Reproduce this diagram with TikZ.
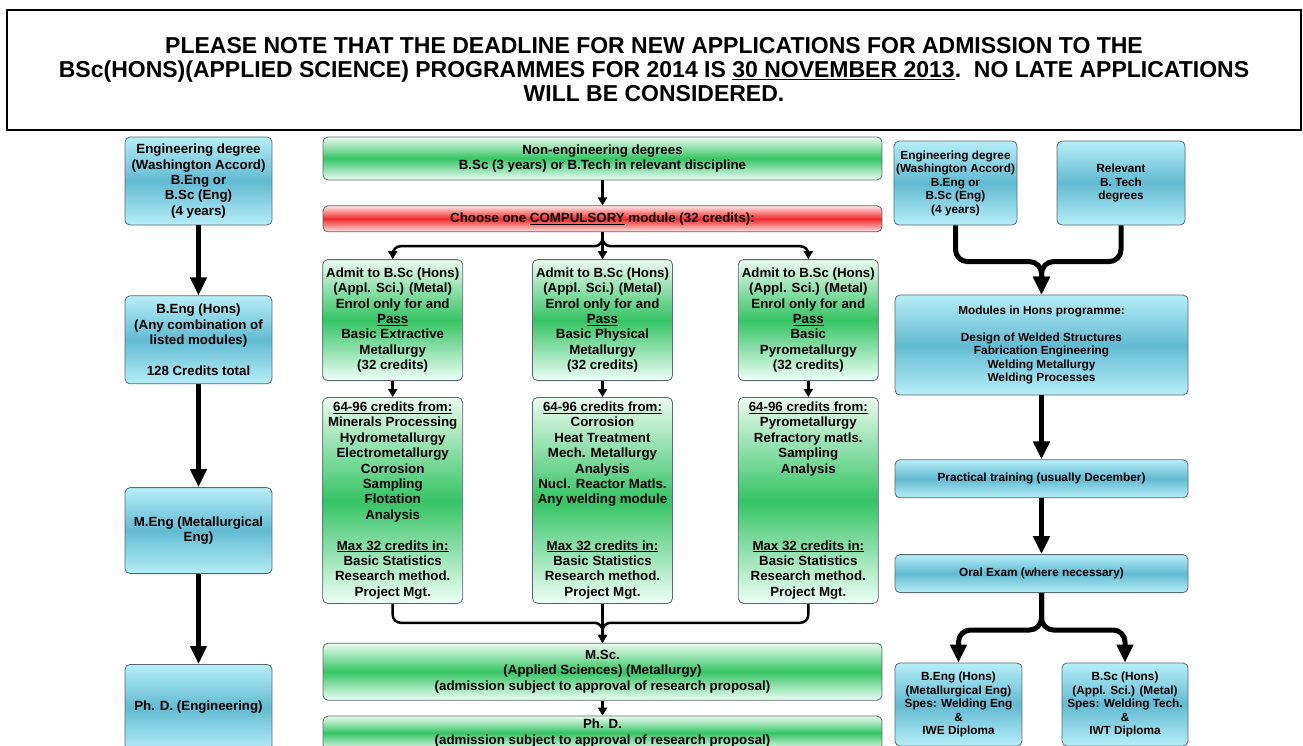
\documentclass[tikz,border=0pt]{standalone}
\usepackage{fontspec}
\setmainfont{Liberation Sans}
\usepackage{tikz}
\usetikzlibrary{arrows.meta,positioning}

\definecolor{bluetop}{HTML}{B6EEF8}
\definecolor{bluemid}{HTML}{62BBD1}
\definecolor{greentop}{HTML}{EAFBEF}
\definecolor{greenmid}{HTML}{35C465}
\definecolor{greenbot}{HTML}{EEFFF8}
\definecolor{redtop}{HTML}{FFE4E4}
\definecolor{redmid}{HTML}{F22A2A}
\definecolor{boxline}{HTML}{5A6A70}

\begin{document}
\begin{tikzpicture}[x=1pt,y=1pt,
  box node/.style={rectangle,rounded corners=5pt,draw=boxline,line width=0.8pt,
        align=center,inner sep=0pt,font=\bfseries\fontsize{13.3}{15.4}\selectfont},
  blue node/.style={box node,top color=bluetop,bottom color=bluetop,middle color=bluemid},
  green node/.style={box node,top color=greentop,bottom color=greenbot,middle color=greenmid},
  red node/.style={box node,top color=redtop,bottom color=redtop,middle color=redmid},
  small node/.style={font=\bfseries\fontsize{11.8}{13.5}\selectfont},
  note node/.style={draw,line width=1.3pt,align=center,inner sep=0pt,
        font=\bfseries\fontsize{23}{24}\selectfont},
  big arrow/.style={line width=5pt,-{Triangle[width=16pt,length=18pt]}},
  thin arrow/.style={line width=2.5pt,-{Triangle[width=9pt,length=8pt]}}]
  \path[use as bounding box] (0,0) rectangle (1303,-745);
  \clip (0,0) rectangle (1303,-745);

  % notice
  \node[note node,minimum width=1294pt,minimum height=120pt] (note) at (654,-70)
    {PLEASE NOTE THAT THE DEADLINE FOR NEW APPLICATIONS FOR ADMISSION TO THE\\
     BSc(HONS)(APPLIED SCIENCE) PROGRAMMES FOR 2014 IS \underline{30 NOVEMBER 2013}.~~NO LATE APPLICATIONS\\
     WILL BE CONSIDERED.};

  % engineering route
  \node[blue node,minimum width=147pt,minimum height=88pt] (engL) at (198.5,-181)
    {Engineering degree\\(Washington Accord)\\B.Eng or\\B.Sc (Eng)\\(4 years)};
  \node[blue node,minimum width=147pt,minimum height=88pt] (bengL) [below=70pt of engL]
    {B.Eng (Hons)\\(Any combination of\\listed modules)\\~\\128 Credits total};
  \node[blue node,minimum width=147pt,minimum height=86pt] (meng) [below=103pt of bengL]
    {M.Eng (Metallurgical\\Eng)};
  \node[blue node,minimum width=147pt,minimum height=86pt] (phdL) [below=90pt of meng]
    {Ph. D. (Engineering)};

  % applied science route
  \node[green node,minimum width=559pt,minimum height=43pt] (noneng) at (602.5,-158.5)
    {Non-engineering degrees\\B.Sc (3 years) or B.Tech in relevant discipline};
  \node[red node,minimum width=559pt,minimum height=26pt] (comp) [below=25pt of noneng]
    {Choose one \underline{COMPULSORY} module (32 credits):};
  \node[green node,minimum width=140pt,minimum height=121pt] (admB) [below=27pt of comp]
    {Admit to B.Sc (Hons)\\(Appl. Sci.) (Metal)\\Enrol only for and\\\underline{Pass}\\Basic Physical\\Metallurgy\\(32 credits)};
  \node[green node,minimum width=140pt,minimum height=121pt] (admA) [left=69pt of admB]
    {Admit to B.Sc (Hons)\\(Appl. Sci.) (Metal)\\Enrol only for and\\\underline{Pass}\\Basic Extractive\\Metallurgy\\(32 credits)};
  \node[green node,minimum width=140pt,minimum height=121pt] (admC) [right=65pt of admB]
    {Admit to B.Sc (Hons)\\(Appl. Sci.) (Metal)\\Enrol only for and\\\underline{Pass}\\Basic\\Pyrometallurgy\\(32 credits)};
  \node[green node,minimum width=140pt,minimum height=206pt] (credA) [below=16pt of admA]
    {\underline{64-96 credits from:}\\Minerals Processing\\Hydrometallurgy\\Electrometallurgy\\Corrosion\\Sampling\\Flotation\\Analysis\\~\\
     \underline{Max 32 credits in:}\\Basic Statistics\\Research method.\\Project Mgt.};
  \node[green node,minimum width=140pt,minimum height=206pt] (credB) [below=16pt of admB]
    {\underline{64-96 credits from:}\\Corrosion\\Heat Treatment\\Mech. Metallurgy\\Analysis\\Nucl. Reactor Matls.\\Any welding module\\~\\~\\
     \underline{Max 32 credits in:}\\Basic Statistics\\Research method.\\Project Mgt.};
  \node[green node,minimum width=140pt,minimum height=206pt] (credC) [below=16pt of admC]
    {\underline{64-96 credits from:}\\Pyrometallurgy\\Refractory matls.\\Sampling\\Analysis\\~\\~\\~\\~\\
     \underline{Max 32 credits in:}\\Basic Statistics\\Research method.\\Project Mgt.};
  \node[green node,minimum width=559pt,minimum height=57pt] (msc) [below=39pt of credB]
    {M.Sc.\\(Applied Sciences) (Metallurgy)\\(admission subject to approval of research proposal)};
  \node[green node,minimum width=559pt,minimum height=34pt] (phdC) [below=15pt of msc]
    {Ph. D.\\(admission subject to approval of research proposal)};

  % welding route
  \node[blue node,small node,minimum width=123pt,minimum height=84pt] (engR) at (955.5,-183)
    {Engineering degree\\(Washington Accord)\\B.Eng or\\B.Sc (Eng)\\(4 years)};
  \node[blue node,small node,minimum width=128pt,minimum height=84pt] (btech) at (1121,-183)
    {Relevant\\B. Tech\\degrees};
  \node[blue node,small node,minimum width=293pt,minimum height=100pt] (mods) at (1041.5,-345)
    {Modules in Hons programme:\\~\\Design of Welded Structures\\Fabrication Engineering\\Welding Metallurgy\\Welding Processes};
  \node[blue node,small node,minimum width=293pt,minimum height=38pt] (prac) [below=64pt of mods]
    {Practical training (usually December)};
  \node[blue node,small node,minimum width=293pt,minimum height=38pt] (oral) [below=56pt of prac]
    {Oral Exam (where necessary)};
  \node[blue node,small node,minimum width=127pt,minimum height=83pt] (bengR) at (958.5,-704.5)
    {B.Eng (Hons)\\(Metallurgical Eng)\\Spes: Welding Eng\\\&\\IWE Diploma};
  \node[blue node,small node,minimum width=126pt,minimum height=83pt] (bscR) at (1125,-704.5)
    {B.Sc (Hons)\\(Appl. Sci.) (Metal)\\Spes: Welding Tech.\\\&\\IWT Diploma};

  \coordinate[below=14pt of comp.south] (csplit);
  \coordinate[below=19pt of credB.south] (cmerge);
  \coordinate[above=33pt of mods.north] (rjoin);
  \coordinate[below=37pt of oral.south] (rsplit);

  \draw[big arrow] (engL) -- (bengL);
  \draw[big arrow] (bengL) -- (meng);
  \draw[big arrow] (meng) -- (phdL);

  \draw[thin arrow] (noneng) -- (comp);
  \draw[thin arrow] (comp) -- (admB);
  \draw[thin arrow,rounded corners=8pt] (comp.south) -- (csplit) -| (admA.north);
  \draw[thin arrow,rounded corners=8pt] (comp.south) -- (csplit) -| (admC.north);
  \draw[thin arrow] (admA) -- (credA);
  \draw[thin arrow] (admB) -- (credB);
  \draw[thin arrow] (admC) -- (credC);
  \draw[thin arrow] (credB) -- (msc);
  \draw[thin arrow,rounded corners=8pt] (credA.south) |- (cmerge) -- (msc.north);
  \draw[thin arrow,rounded corners=8pt] (credC.south) |- (cmerge) -- (msc.north);
  \draw[thin arrow] (msc) -- (phdC);

  \draw[big arrow,rounded corners=12pt] (engR.south) |- (rjoin) -- (mods.north);
  \draw[big arrow,rounded corners=12pt] (btech.south) |- (rjoin) -- (mods.north);
  \draw[big arrow] (mods) -- (prac);
  \draw[big arrow] (prac) -- (oral);
  \draw[big arrow,rounded corners=12pt] (oral.south) -- (rsplit) -| (bengR.north);
  \draw[big arrow,rounded corners=12pt] (oral.south) -- (rsplit) -| (bscR.north);
\end{tikzpicture}
\end{document}
